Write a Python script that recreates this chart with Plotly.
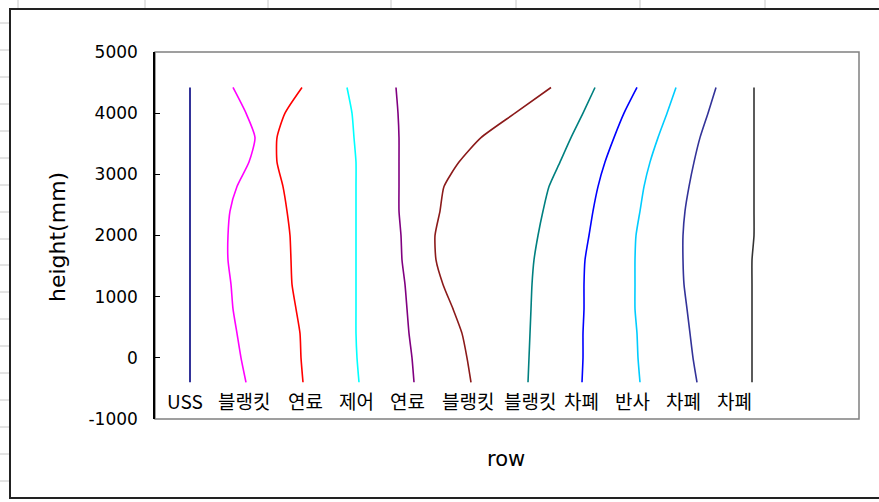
import plotly.graph_objects as go

# heights (mm) at which each profile was read
heights = [4420, 4000, 3600, 3200, 2800, 2400, 2000, 1600, 1200, 800, 400, 0, -400]

# horizontal positions of each row profile (chart x units)
uss       = [190, 190, 190, 190, 190, 190, 190, 190, 190, 190, 190, 190, 190]
blanket1  = [233, 246, 255, 249, 237, 230, 228, 228, 231, 233, 237, 241, 246]
fuel1     = [302, 285, 277, 277, 283, 287, 290, 291, 292, 296, 300, 301, 303]
control   = [347, 352, 354, 356, 356, 356, 356, 356, 356, 356, 356, 357, 359]
fuel2     = [396, 398, 399, 399, 399, 399, 401, 402, 405, 407, 409, 412, 414]
blanket2  = [551, 515, 481, 459, 444, 440, 435, 436, 443, 453, 462, 467, 471]
blanket3  = [595, 583, 571, 560, 549, 543, 538, 534, 532, 531, 530, 529, 528]
shield1   = [637, 624, 614, 605, 598, 593, 589, 585, 584, 584, 583, 583, 582]
reflector = [676, 667, 658, 650, 644, 640, 636, 635, 635, 635, 637, 638, 640]
shield2   = [716, 708, 700, 694, 689, 685, 683, 683, 684, 687, 690, 693, 697]
shield3   = [754, 754, 754, 754, 754, 754, 754, 752, 752, 752, 752, 752, 752]

series = [uss, blanket1, fuel1, control, fuel2, blanket2, blanket3,
          shield1, reflector, shield2, shield3]
colors = ["#000080", "#FF00FF", "#FF0000", "#00FFFF", "#800080", "#8B1A1A",
          "#008080", "#0000FF", "#00CCFF", "#333399", "#333333"]

cat_labels = ["USS", "블랭킷", "연료", "제어", "연료", "블랭킷", "블랭킷",
              "차폐", "반사", "차폐", "차폐"]
cat_pos = [185, 244, 305, 356, 407, 468, 530, 581, 632, 683, 734]
cat_label_height = -700

y_ticks = [-1000, 0, 1000, 2000, 3000, 4000, 5000]
y_tick_text = ["-1000", "0", "1000", "2000", "3000", "4000", "5000"]

W, H = 879, 502
L, R, T, B = 155, 20, 52, 83
PW, PH = W - L - R, H - T - B

def px(x):
    return (x - L) / PW

def py(y):
    return 1 - (y - T) / PH

fig = go.Figure()
for s, c in zip(series, colors):
    fig.add_trace(go.Scatter(x=s, y=heights, mode="lines",
                             line=dict(color=c, width=1.6, shape="spline", smoothing=0.6),
                             showlegend=False, hoverinfo="skip"))

shapes = []
# spreadsheet gridlines around the chart object
for cx in [18, 145, 268, 391, 516, 640, 765]:
    shapes.append(dict(type="line", xref="paper", yref="paper",
                       x0=px(cx), x1=px(cx), y0=py(0), y1=py(9),
                       line=dict(color="#C8C8C8", width=1), layer="below"))
for ry in [23, 50, 77, 104, 131, 158, 185, 212, 239, 265, 292, 319, 346,
           373, 400, 427, 454, 481]:
    shapes.append(dict(type="line", xref="paper", yref="paper",
                       x0=px(0), x1=px(10), y0=py(ry), y1=py(ry),
                       line=dict(color="#C8C8C8", width=1), layer="below"))
# chart area frame
shapes.append(dict(type="rect", xref="paper", yref="paper",
                   x0=px(10), x1=px(885), y0=py(498), y1=py(9),
                   line=dict(color="#222222", width=2), layer="below"))
# plot area border
shapes.append(dict(type="rect", xref="paper", yref="paper",
                   x0=0, x1=1, y0=0, y1=1,
                   line=dict(color="#808080", width=1.5), layer="below"))

annotations = []
for lab, xp in zip(cat_labels, cat_pos):
    annotations.append(dict(x=xp, y=cat_label_height, xref="x", yref="y",
                            text=lab, showarrow=False,
                            xanchor="center", yanchor="middle",
                            font=dict(family="Noto Sans CJK KR", size=19, color="#000000")))
annotations.append(dict(x=px(57), y=py(237), xref="paper", yref="paper",
                        text="height(mm)", textangle=-90, showarrow=False,
                        xanchor="center", yanchor="middle",
                        font=dict(family="DejaVu Sans", size=22, color="#000000")))
annotations.append(dict(x=px(506), y=py(459), xref="paper", yref="paper",
                        text="row", showarrow=False,
                        xanchor="center", yanchor="middle",
                        font=dict(family="DejaVu Sans", size=21, color="#000000")))

fig.update_layout(
    width=W, height=H,
    margin=dict(l=L, r=R, t=T, b=B, pad=0),
    paper_bgcolor="white", plot_bgcolor="white",
    shapes=shapes, annotations=annotations,
    xaxis=dict(range=[155, 859], visible=False, showgrid=False, zeroline=False),
    yaxis=dict(range=[-1000, 5000], tickvals=y_ticks, ticktext=y_tick_text,
               ticks="inside", ticklen=5, tickcolor="#000000", tickwidth=1,
               showline=True, linecolor="#000000", linewidth=1.5,
               showgrid=False, zeroline=False, ticklabelstandoff=12,
               tickfont=dict(family="DejaVu Sans", size=17, color="#000000")),
)

fig.write_html("out.html", config={"displayModeBar": False},
               post_script="document.body.style.margin='0';document.body.style.overflow='hidden';")
